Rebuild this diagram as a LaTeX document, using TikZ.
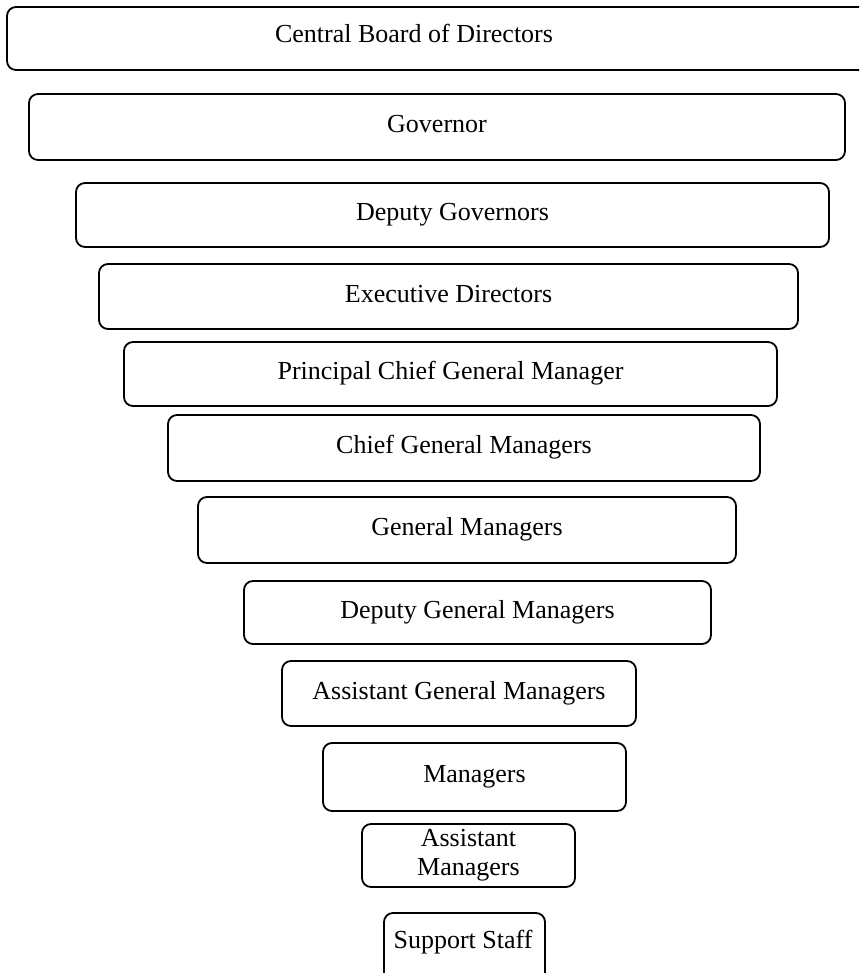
\documentclass[tikz,border=0pt]{standalone}
\usepackage{fontspec}
\setmainfont{Liberation Serif}
\begin{document}
\begin{tikzpicture}[x=1pt,y=1pt,
  tier/.style={draw=black, line width=1.8pt, rounded corners=9pt, fill=white,
    inner sep=0pt, font=\fontsize{26}{29}\selectfont,
    text height=18pt, text depth=6.5pt, align=center},
  label/.style={inner sep=0pt, font=\fontsize{26}{29}\selectfont,
    text height=18pt, text depth=6.5pt}]
\useasboundingbox (0,0) rectangle (859,973);
\clip (0,0) rectangle (859,973);
\fill[white] (0,0) rectangle (859,973);
% Central Board (box runs past right edge)
\node[tier, minimum width=873pt, minimum height=63pt] (cbdbox) at (443.5,934.5) {};
\node[label] (cbd) at (414,936) {Central Board of Directors};
\node[tier, minimum width=816pt, minimum height=66pt] (gov) at (437,846) {Governor};
\node[tier, minimum width=753pt, minimum height=64pt] (dg) at (452.5,758) {Deputy Governors};
\node[tier, minimum width=699pt, minimum height=65pt] (ed) at (448.5,676.5) {Executive Directors};
\node[tier, minimum width=653pt, minimum height=64pt] (pcgm) at (450.5,599) {Principal Chief General Manager};
\node[tier, minimum width=592pt, minimum height=66pt] (cgm) at (464,525) {Chief General Managers};
\node[tier, minimum width=538pt, minimum height=66pt] (gm) at (467,443) {General Managers};
\node[tier, minimum width=467pt, minimum height=63pt] (dgm) at (477.5,360.5) {Deputy General Managers};
\node[tier, minimum width=354pt, minimum height=65pt] (agm) at (459,279.5) {Assistant General Managers};
\node[tier, minimum width=303pt, minimum height=68pt] (mgr) at (474.5,196) {Managers};
\node[tier, minimum width=213pt, minimum height=63pt, text height={}, text depth={}] (am) at (468.5,117.5) {Assistant\\Managers};
% Support Staff (box runs past bottom edge)
\node[tier, minimum width=161pt, minimum height=72pt] (ssbox) at (464.5,24) {};
\node[label] (ss) at (463,30.5) {Support Staff};
\end{tikzpicture}
\end{document}
